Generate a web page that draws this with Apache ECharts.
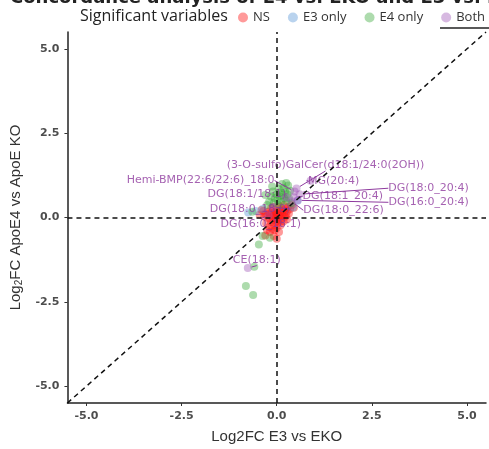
<!DOCTYPE html>
<html><head><meta charset="utf-8">
<script src="https://cdn.jsdelivr.net/npm/echarts@6/dist/echarts.min.js"></script>
<style>html,body{margin:0;padding:0;background:#fff}#c{width:489px;height:449px}</style>
</head><body><div id="c"></div>
<script>
// ---- data ----
var tickValues = [-5, -2.5, 0, 2.5, 5];
var nsPoints = [
 [-0.35,0.19],[-0.3,0.12],[-0.25,0.05],[-0.22,0.17],[-0.2,-0.03],[-0.18,0.09],[-0.15,-0.13],[-0.14,0.15],
 [-0.12,0.02],[-0.1,-0.08],[-0.08,0.07],[-0.07,-0.23],[-0.05,0.17],[-0.04,-0.01],[-0.03,-0.13],[-0.02,0.1],
 [0.0,-0.05],[0.0,0.12],[0.02,-0.18],[0.03,0.05],[0.05,0.17],[0.05,-0.08],[0.07,0.02],[0.08,0.09],
 [0.1,-0.23],[0.1,0.19],[0.12,-0.03],[0.13,0.12],[0.15,0.05],[0.16,0.22],[0.18,-0.11],[0.2,0.15],
 [0.22,0.02],[0.24,0.27],[0.25,0.07],[0.28,0.19],[0.3,0.32],[0.32,0.12],[0.35,0.25],[0.4,0.37],
 [-0.28,-0.18],[-0.2,-0.28],[-0.12,-0.33],[-0.05,-0.38],[0.0,-0.31],[-0.3,-0.53],[0.0,-0.63],
 [-0.15,0.27],[-0.4,0.22],[0.08,0.32],[0.18,0.37],[-0.1,0.32],[0.02,0.27],[-0.25,-0.38],[0.12,-0.13],
 [-0.18,-0.43],[0.06,-0.43],[-0.33,0.02],[0.27,-0.05],[0.45,0.29],[-0.45,0.08],[-0.08,-0.55]
];
var e3Points = [[-0.37,0.25],[0.43,0.3],[-0.55,0.19],[0.55,0.5],[-0.75,0.15]];
var e4Points = [
 [-0.2,0.47],[-0.15,0.62],[-0.1,0.77],[-0.05,0.57],[0.0,0.69],[0.02,0.52],[0.05,0.85],[0.08,0.62],
 [0.1,0.75],[0.12,0.47],[0.15,0.67],[0.18,0.87],[0.2,0.57],[0.22,0.77],[0.25,0.49],[0.28,0.69],
 [0.3,0.95],[0.32,0.57],[0.35,0.79],[-0.25,0.37],[-0.08,0.42],[0.05,0.37],[-0.3,0.67],[0.14,0.99],
 [0.38,0.42],[-0.64,0.17],[-0.37,-0.55],[-0.18,-0.6],[-0.47,-0.8],[-0.59,-1.46],[-0.81,-2.03],
 [-0.62,-2.3],[-0.12,0.92],[0.25,1.02]
];
var bothNames = ['(3-O-sulfo)GalCer(d18:1/24:0(2OH))','MG(20:4)','Hemi-BMP(22:6/22:6)_18:0','DG(18:1/18:1)',
 'DG(18:1_20:4)','DG(18:0_20:4)','DG(16:0_20:4)','DG(18:0_22:6)','DG(18:0_18:0)','DG(16:0_18:1)','CE(18:1)'];
var bothX = [0.52,0.89,0.47,0.24,0.45,0.6,0.55,0.39,-0.1,-0.21,-0.76];
var bothY = [0.86,1.09,0.77,0.6,0.6,0.69,0.51,0.48,0.31,0.07,-1.5];
// label offsets in pixels (style)
var labelDX = [29,23,-94,-39,49,129,131,52,-23,-8,9];
var labelDY = [-23,0,-11,-3,-1,-6,2,9,2,9,-8];

var chart = echarts.init(document.getElementById('c'));
var axisCommon = {
  type:'value', min:-5.5, max:5.5,
  splitLine:{show:false},
  axisLine:{show:true, onZero:false, lineStyle:{color:'#222', width:1.5}},
  axisTick:{show:true, length:3, customValues:tickValues, lineStyle:{color:'#333'}},
  axisLabel:{customValues:tickValues, color:'#4d4d4d', fontSize:11, fontWeight:'bold', fontFamily:'DejaVu Sans',
    formatter:function(v){return v.toFixed(1);}},
  nameLocation:'middle', nameTextStyle:{fontSize:15, color:'#333', fontFamily:'Liberation Sans'}
};
var symSize = 8;
var option = {
  animation:false,
  grid:{left:65, right:3, top:32, bottom:40},
  legend:{left:233, top:6, width:500, itemGap:18, itemWidth:10, itemHeight:10, icon:'circle',
    textStyle:{fontSize:13, color:'#333', fontFamily:'Open Sans'},
    data:['NS','E3 only','E4 only','Both']},
  graphic:[
    {type:'text', x:10, y:-11, style:{text:'Concordance analysis of E4 vs. EKO and E3 vs. EKO', fontSize:18, fontWeight:'bold', fill:'#222', fontFamily:'DejaVu Sans'}},
    {type:'text', left:80, top:8, style:{text:'Significant variables', fontSize:16, fill:'#222', fontFamily:'Open Sans'}},
    {type:'line', shape:{x1:440,y1:28,x2:489,y2:28}, style:{stroke:'#222', lineWidth:1.5}}
  ],
  xAxis:Object.assign({}, axisCommon, {name:'Log2FC E3 vs EKO', nameGap:26}),
  yAxis:Object.assign({}, axisCommon, {name:'{a|Log}{s|2}{a|FC ApoE4 vs ApoE KO}', nameGap:27,
    nameTextStyle:{fontSize:15, color:'#333', fontFamily:'Liberation Sans',
      rich:{a:{fontSize:15, color:'#333', fontFamily:'Liberation Sans'}, s:{fontSize:10, color:'#333', fontFamily:'Liberation Sans', padding:[8,0,0,0]}}}}),
  series:[
    {name:'NS', type:'scatter', symbolSize:symSize, itemStyle:{color:'rgba(255,25,25,0.55)'}, data:nsPoints, z:2},
    {name:'E3 only', type:'scatter', symbolSize:symSize, itemStyle:{color:'rgba(80,145,212,0.5)'}, data:e3Points, z:2},
    {name:'E4 only', type:'scatter', symbolSize:symSize, itemStyle:{color:'rgba(50,165,50,0.5)'}, data:e4Points, z:2},
    {name:'Both', type:'scatter', symbolSize:symSize, itemStyle:{color:'rgba(155,80,180,0.5)'}, z:3,
      data:bothNames.map(function(n,i){return {name:n, value:[bothX[i], bothY[i]]};}),
      label:{show:true, position:'inside', formatter:'{b}', color:'#8e3a9e', fontSize:11, fontFamily:'DejaVu Sans'},
      labelLine:{show:true, lineStyle:{color:'#8e3a9e', width:1}},
      labelLayout:function(p){return {dx:labelDX[p.dataIndex], dy:labelDY[p.dataIndex]};}
    },
    {name:'ref', type:'scatter', data:[], silent:true, z:1,
      markLine:{silent:true, symbol:'none', label:{show:false},
        lineStyle:{color:'#111', type:[5,4], width:1.5},
        data:[{xAxis:0},{yAxis:0},[{coord:[-5.5,-5.5]},{coord:[5.5,5.5]}]]}}
  ]
};
chart.setOption(option);
</script></body></html>
